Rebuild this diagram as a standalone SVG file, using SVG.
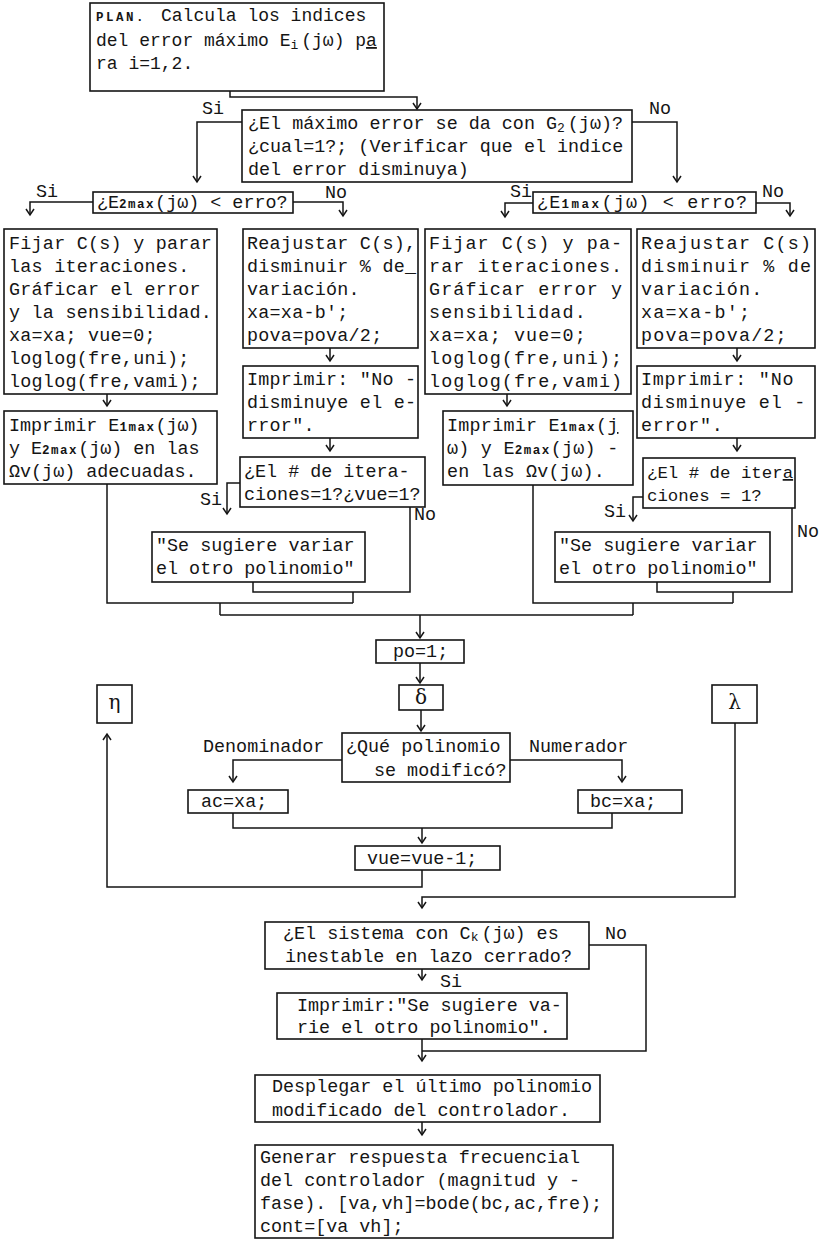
<svg xmlns="http://www.w3.org/2000/svg" width="820" height="1240" viewBox="0 0 820 1240">
<defs>
<style>
.b{fill:none;stroke:#151515;stroke-width:1.6}
.c{fill:none;stroke:#151515;stroke-width:1.5}
.t{font-family:"Liberation Mono","DejaVu Sans Mono",monospace;font-size:18.4px;fill:#151515}
.sm{font-size:12.5px;font-weight:bold;letter-spacing:1.5px}
.u{text-decoration:underline}
.g{font-family:"DejaVu Serif","Liberation Serif",serif;font-size:20px;fill:#151515}
</style>
<marker id="ah" markerWidth="10" markerHeight="10" viewBox="-8 -5 10 10" refX="0" refY="0" orient="auto" markerUnits="userSpaceOnUse">
<path d="M-6,-4 L0,0 L-6,4" fill="none" stroke="#151515" stroke-width="1.5"/>
</marker>
</defs>
<rect width="820" height="1240" fill="#ffffff"/>

<g id="n_plan">
<rect class="b" x="90" y="3" width="294" height="88"/>
<text class="t" x="96" y="21" style="font-size:12.5px;font-weight:bold;letter-spacing:2.5px">PLAN.</text>
<text class="t" x="161" y="21" style="font-size:18px">Calcula los indices</text>
<text class="t" x="96" y="46" style="font-size:18px">del error máximo E<tspan style="font-size:13px" dy="3">i</tspan><tspan dy="-3" dx="3">(jω) p</tspan><tspan class="u">a</tspan></text>
<text class="t" x="96" y="69" style="font-size:18px">ra i=1,2.</text>
</g>

<g id="n_d1">
<rect class="b" x="242" y="110" width="390" height="72"/>
<text class="t" x="248" y="129">¿El máximo error se da con G<tspan style="font-size:13px" dy="3">2</tspan><tspan dy="-3" dx="3">(jω)?</tspan></text>
<text class="t" x="248" y="152">¿cual=1?; (Verificar que el indice</text>
<text class="t" x="248" y="175">del error disminuya)</text>
</g>

<g id="n_d2l">
<rect class="b" x="93" y="192" width="200" height="21"/>
<text class="t" x="97" y="208">¿E<tspan class="sm">2max</tspan>(jω) &lt; erro?</text>
</g>

<g id="n_d2r">
<rect class="b" x="533" y="192" width="223" height="21"/>
<text class="t" x="537" y="208" style="letter-spacing:1.2px">¿E<tspan class="sm" style="letter-spacing:2.5px">1max</tspan>(jω) &lt; erro?</text>
</g>

<g id="n_a">
<rect class="b" x="4" y="229" width="213" height="165"/>
<g class="t" style="letter-spacing:0.25px">
<text x="9" y="249">Fijar C(s) y parar</text>
<text x="9" y="272">las iteraciones.</text>
<text x="9" y="295">Gráficar el error</text>
<text x="9" y="318">y la sensibilidad.</text>
<text x="9" y="341">xa=xa; vue=0;</text>
<text x="9" y="364">loglog(fre,uni);</text>
<text x="9" y="387">loglog(fre,vami);</text>
</g>
</g>

<g id="n_a2">
<rect class="b" x="4" y="411" width="213" height="73"/>
<g class="t">
<text x="9" y="431">Imprimir E<tspan class="sm">1max</tspan>(jω)</text>
<text x="9" y="454">y E<tspan class="sm">2max</tspan>(jω) en las</text>
<text x="9" y="477">Ωv(jω) adecuadas.</text>
</g>
</g>

<g id="n_b">
<rect class="b" x="243" y="229" width="175" height="119"/>
<g class="t" style="letter-spacing:0.25px">
<text x="247" y="249">Reajustar C(s),</text>
<text x="247" y="272">disminuir % de_</text>
<text x="247" y="295">variación.</text>
<text x="247" y="318">xa=xa-b';</text>
<text x="247" y="341">pova=pova/2;</text>
</g>
</g>

<g id="n_b2">
<rect class="b" x="243" y="366" width="175" height="72"/>
<g class="t" style="letter-spacing:0.25px">
<text x="247" y="385">Imprimir: "No -</text>
<text x="247" y="408">disminuye el e-</text>
<text x="247" y="431">rror".</text>
</g>
</g>

<g id="n_b3">
<rect class="b" x="240" y="457" width="185" height="50"/>
<g class="t">
<text x="244" y="477">¿El # de itera-</text>
<text x="244" y="500">ciones=1?¿vue=1?</text>
</g>
</g>

<g id="n_sl">
<rect class="b" x="152" y="532" width="213" height="50"/>
<g class="t">
<text x="156" y="551">"Se sugiere variar</text>
<text x="156" y="574">el otro polinomio"</text>
</g>
</g>

<g id="n_c">
<rect class="b" x="425" y="229" width="206" height="165"/>
<g class="t" style="letter-spacing:1.1px">
<text x="429" y="249">Fijar C(s) y pa-</text>
<text x="429" y="272">rar iteraciones.</text>
<text x="429" y="295">Gráficar error y</text>
<text x="429" y="318">sensibilidad.</text>
<text x="429" y="341">xa=xa; vue=0;</text>
<text x="429" y="364">loglog(fre,uni);</text>
<text x="429" y="387">loglog(fre,vami)</text>
</g>
</g>

<g id="n_c2">
<rect class="b" x="443" y="411" width="190" height="74"/>
<g class="t" style="letter-spacing:0.25px">
<text x="447" y="431">Imprimir E<tspan class="sm">1max</tspan>(<tspan class="u">j</tspan></text>
<text x="447" y="454">ω) y E<tspan class="sm">2max</tspan>(jω) -</text>
<text x="447" y="477">en las Ωv(jω).</text>
</g>
</g>

<g id="n_d">
<rect class="b" x="637" y="229" width="178" height="119"/>
<g class="t" style="letter-spacing:1.2px">
<text x="641" y="249">Reajustar C(s)</text>
<text x="641" y="272">disminuir % de</text>
<text x="641" y="295">variación.</text>
<text x="641" y="318">xa=xa-b';</text>
<text x="641" y="341">pova=pova/2;</text>
</g>
</g>

<g id="n_d2">
<rect class="b" x="637" y="366" width="178" height="72"/>
<g class="t" style="letter-spacing:0.75px">
<text x="641" y="385">Imprimir: "No</text>
<text x="641" y="408">disminuye el -</text>
<text x="641" y="431">error".</text>
</g>
</g>

<g id="n_d3">
<rect class="b" x="643" y="458" width="152" height="50"/>
<g class="t" style="font-size:17.4px">
<text x="647" y="478">¿El # de iter<tspan class="u">a</tspan></text>
<text x="647" y="501">ciones = 1?</text>
</g>
</g>

<g id="n_sr">
<rect class="b" x="555" y="532" width="215" height="50"/>
<g class="t">
<text x="559" y="551">"Se sugiere variar</text>
<text x="559" y="574">el otro polinomio"</text>
</g>
</g>

<g id="n_po">
<rect class="b" x="376" y="640" width="88" height="23"/>
<text class="t" x="393" y="657">po=1;</text>
</g>

<g id="n_delta">
<rect class="b" x="399" y="685" width="44" height="25"/>
<text class="g" x="421" y="704" text-anchor="middle">δ</text>
</g>

<g id="n_eta">
<rect class="b" x="97" y="685" width="35" height="38"/>
<text class="g" x="114.5" y="709" text-anchor="middle">η</text>
</g>

<g id="n_lambda">
<rect class="b" x="712" y="685" width="45" height="38"/>
<text class="g" x="734.5" y="709" text-anchor="middle">λ</text>
</g>

<g id="n_que">
<rect class="b" x="342" y="733" width="168" height="49"/>
<g class="t">
<text x="346" y="752">¿Qué polinomio</text>
<text x="374" y="776">se modificó?</text>
</g>
</g>

<g id="n_ac">
<rect class="b" x="188" y="790" width="100" height="23"/>
<text class="t" x="201" y="807">ac=xa;</text>
</g>

<g id="n_bc">
<rect class="b" x="578" y="790" width="104" height="23"/>
<text class="t" x="590" y="807">bc=xa;</text>
</g>

<g id="n_vue">
<rect class="b" x="355" y="846" width="145" height="24"/>
<text class="t" x="367" y="864">vue=vue-1;</text>
</g>

<g id="n_sis">
<rect class="b" x="265" y="922" width="324" height="47"/>
<g class="t">
<text x="283" y="939">¿El sistema con C<tspan style="font-size:13px" dy="2">k</tspan><tspan dy="-2" dx="3">(jω) es</tspan></text>
<text x="285" y="962">inestable en lazo cerrado?</text>
</g>
</g>

<g id="n_imp">
<rect class="b" x="277" y="993" width="290" height="46"/>
<g class="t">
<text x="297" y="1011">Imprimir:"Se sugiere va-</text>
<text x="297" y="1033">rie el otro polinomio".</text>
</g>
</g>

<g id="n_des">
<rect class="b" x="255" y="1075" width="345" height="47"/>
<g class="t">
<text x="272" y="1092">Desplegar el último polinomio</text>
<text x="272" y="1116">modificado del controlador.</text>
</g>
</g>

<g id="n_gen">
<rect class="b" x="255" y="1145" width="358" height="93"/>
<g class="t">
<text x="260" y="1163">Generar respuesta frecuencial</text>
<text x="260" y="1186">del controlador (magnitud y -</text>
<text x="260" y="1209">fase). [va,vh]=bode(bc,ac,fre);</text>
<text x="260" y="1232">cont=[va vh];</text>
</g>
</g>

<g id="connectors">
<path class="c" d="M230,91 V97 H417 V109" marker-end="url(#ah)"/>
<path class="c" d="M242,122 H197 V182" marker-end="url(#ah)"/>
<path class="c" d="M632,122 H677 V182" marker-end="url(#ah)"/>
<path class="c" d="M93,202 H30 V215" marker-end="url(#ah)"/>
<path class="c" d="M293,202 H343 V216" marker-end="url(#ah)"/>
<path class="c" d="M533,203 H505 V217" marker-end="url(#ah)"/>
<path class="c" d="M756,203 H790 V216" marker-end="url(#ah)"/>
<path class="c" d="M107,394 V406" marker-end="url(#ah)"/>
<path class="c" d="M330,348 V361" marker-end="url(#ah)"/>
<path class="c" d="M330,438 V451" marker-end="url(#ah)"/>
<path class="c" d="M507,394 V406" marker-end="url(#ah)"/>
<path class="c" d="M737,348 V361" marker-end="url(#ah)"/>
<path class="c" d="M737,438 V451" marker-end="url(#ah)"/>
<path class="c" d="M240,483 H227 V514" marker-end="url(#ah)"/>
<path class="c" d="M643,497 H633 V521" marker-end="url(#ah)"/>
<path class="c" d="M410,507 V592 H253 V582"/>
<path class="c" d="M353,592 V603"/>
<path class="c" d="M107,484 V603 H353"/>
<path class="c" d="M220,603 V615"/>
<path class="c" d="M792,508 V592 H657 V582"/>
<path class="c" d="M733,592 V603"/>
<path class="c" d="M533,485 V603 H733"/>
<path class="c" d="M633,603 V615"/>
<path class="c" d="M220,615 H633"/>
<path class="c" d="M420,615 V638" marker-end="url(#ah)"/>
<path class="c" d="M420,663 V683" marker-end="url(#ah)"/>
<path class="c" d="M421,710 V731" marker-end="url(#ah)"/>
<path class="c" d="M342,760 H233 V782" marker-end="url(#ah)"/>
<path class="c" d="M510,760 H622 V782" marker-end="url(#ah)"/>
<path class="c" d="M233,813 V828 H612 V813"/>
<path class="c" d="M422,828 V843" marker-end="url(#ah)"/>
<path class="c" d="M422,870 V887 H107 V734" marker-end="url(#ah)"/>
<path class="c" d="M735,723 V897 H422 V908" marker-end="url(#ah)"/>
<path class="c" d="M589,945 H646 V1051 H422"/>
<path class="c" d="M422,969 V980" marker-end="url(#ah)"/>
<path class="c" d="M422,1039 V1061" marker-end="url(#ah)"/>
<path class="c" d="M422,1122 V1135" marker-end="url(#ah)"/>
<g class="t">
<text x="202" y="114">Si</text>
<text x="649" y="114">No</text>
<text x="36" y="197">Si</text>
<text x="325" y="198">No</text>
<text x="510" y="197">Si</text>
<text x="762" y="197">No</text>
<text x="200" y="505">Si</text>
<text x="414" y="520">No</text>
<text x="604" y="517">Si</text>
<text x="797" y="537">No</text>
<text x="203" y="752">Denominador</text>
<text x="529" y="752">Numerador</text>
<text x="605" y="939">No</text>
<text x="440" y="987">Si</text>
</g>
</g>
</svg>
